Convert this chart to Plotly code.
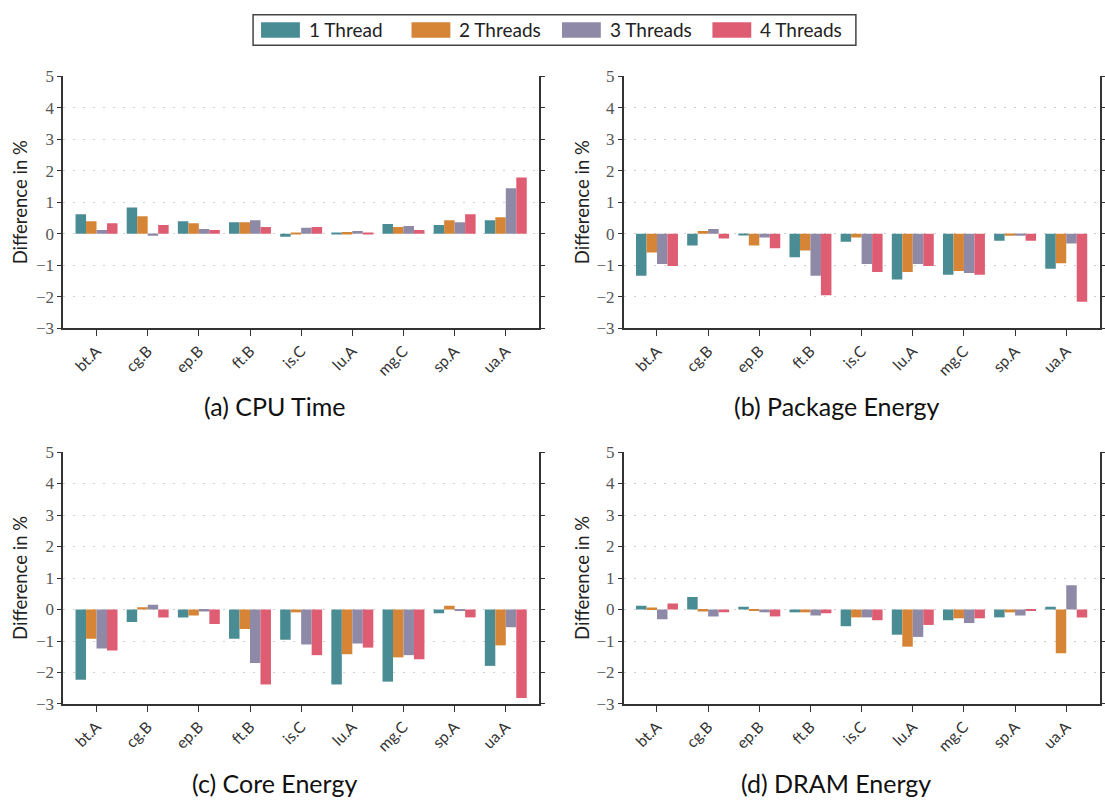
import plotly.graph_objects as go

# Benchmarks on the x axis
benchmarks = ["bt.A", "cg.B", "ep.B", "ft.B", "is.C", "lu.A", "mg.C", "sp.A", "ua.A"]

series_names = ["1 Thread", "2 Threads", "3 Threads", "4 Threads"]
series_colors = ["#4a8c94", "#d68537", "#8e89a6", "#df5d73"]

# (a) CPU Time, difference in %
cpu_1 = [0.62, 0.84, 0.40, 0.37, -0.09, 0.02, 0.31, 0.28, 0.43]
cpu_2 = [0.40, 0.56, 0.34, 0.37, 0.02, 0.06, 0.22, 0.43, 0.53]
cpu_3 = [0.12, -0.06, 0.15, 0.43, 0.19, 0.09, 0.25, 0.37, 1.45]
cpu_4 = [0.34, 0.28, 0.12, 0.22, 0.22, 0.02, 0.12, 0.62, 1.79]

# (b) Package Energy
pkg_1 = [-1.33, -0.37, -0.03, -0.74, -0.25, -1.45, -1.30, -0.22, -1.11]
pkg_2 = [-0.59, 0.09, -0.37, -0.53, -0.12, -1.21, -1.18, -0.06, -0.93]
pkg_3 = [-0.96, 0.15, -0.12, -1.33, -0.96, -0.96, -1.24, -0.06, -0.31]
pkg_4 = [-1.02, -0.15, -0.46, -1.95, -1.21, -1.02, -1.30, -0.22, -2.16]

# (c) Core Energy
core_1 = [-2.23, -0.40, -0.25, -0.93, -0.96, -2.38, -2.29, -0.12, -1.79]
core_2 = [-0.93, 0.07, -0.19, -0.62, -0.09, -1.42, -1.52, 0.12, -1.14]
core_3 = [-1.24, 0.15, -0.06, -1.70, -1.11, -1.08, -1.45, -0.02, -0.56]
core_4 = [-1.30, -0.25, -0.46, -2.38, -1.45, -1.21, -1.58, -0.25, -2.81]

# (d) DRAM Energy
dram_1 = [0.12, 0.40, 0.09, -0.09, -0.53, -0.80, -0.34, -0.25, 0.09]
dram_2 = [0.06, -0.06, -0.03, -0.09, -0.25, -1.18, -0.28, -0.09, -1.39]
dram_3 = [-0.31, -0.22, -0.09, -0.19, -0.25, -0.87, -0.43, -0.19, 0.77]
dram_4 = [0.19, -0.09, -0.22, -0.12, -0.34, -0.49, -0.28, -0.03, -0.25]

panel_titles = ["(a) CPU Time", "(b) Package Energy", "(c) Core Energy", "(d) DRAM Energy"]
panel_data = [
    [cpu_1, cpu_2, cpu_3, cpu_4],
    [pkg_1, pkg_2, pkg_3, pkg_4],
    [core_1, core_2, core_3, core_4],
    [dram_1, dram_2, dram_3, dram_4],
]

y_ticks = [-3, -2, -1, 0, 1, 2, 3, 4, 5]

W, H = 1105, 809
SANS = "Lato"
SERIF = "Liberation Serif"
LINE = "#333333"

# plot-area pixel boxes (left, right, top, bottom)
boxes = [
    (63.5, 541.0, 69.0, 327.0),
    (626.0, 1103.5, 69.0, 327.0),
    (63.5, 541.0, 453.7, 711.7),
    (626.0, 1103.5, 453.7, 711.7),
]
caption_pos = [(275, 407), (840, 407), (275, 793), (839, 793)]
ytitle_x = [20, 584, 20, 584]

fig = go.Figure()
layout = {}
annotations = []
shapes = []

for p, (values, box) in enumerate(zip(panel_data, boxes)):
    xa = "x" if p == 0 else f"x{p + 1}"
    ya = "y" if p == 0 else f"y{p + 1}"
    for name, color, vals in zip(series_names, series_colors, values):
        fig.add_trace(go.Bar(
            x=benchmarks, y=vals, name=name, marker_color=color,
            marker_line_width=0, xaxis=xa, yaxis=ya, showlegend=False,
        ))
    l, r, t, b = box
    xdom = [l / W, r / W]
    ydom = [1 - b / H, 1 - t / H]
    xkey = "xaxis" if p == 0 else f"xaxis{p + 1}"
    ykey = "yaxis" if p == 0 else f"yaxis{p + 1}"
    layout[xkey] = dict(
        domain=xdom, anchor=ya, range=[-0.65, len(benchmarks) - 0.35],
        showline=True, linecolor=LINE, linewidth=1.6, mirror=False,
        ticks="outside", ticklen=6, tickwidth=1.3, tickcolor=LINE,
        tickangle=-45, tickfont=dict(family=SANS, size=15.5, color="#333"),
        showgrid=False, zeroline=False, fixedrange=True,
    )
    layout[ykey] = dict(
        domain=ydom, anchor=xa, range=[-3, 5], tickvals=y_ticks,
        showline=True, linecolor=LINE, linewidth=1.6, mirror="ticks",
        ticks="outside", ticklen=4, tickwidth=1.3, tickcolor=LINE,
        tickfont=dict(family=SERIF, size=17, color="#555"),
        showgrid=True, gridcolor="#cfcfcf", griddash="2px,8px", gridwidth=1.2,
        zeroline=False, fixedrange=True,
    )
    # inner tick marks on both spines
    okey = f"yaxis{p + 5}"
    layout[okey] = dict(
        overlaying=ya, anchor=xa, range=[-3, 5], tickvals=y_ticks,
        side="left", showline=False, showgrid=False, zeroline=False,
        ticks="inside", ticklen=4, tickwidth=1.3, tickcolor=LINE,
        mirror="ticks", showticklabels=False, fixedrange=True,
    )
    annotations.append(dict(
        text="Difference in %", xref="paper", yref="paper",
        x=ytitle_x[p] / W, y=1 - (t + b) / 2 / H, textangle=-90,
        showarrow=False, xanchor="center", yanchor="middle",
        font=dict(family=SANS, size=18.5, color="#222"),
    ))
    cx, cy = caption_pos[p]
    annotations.append(dict(
        text=panel_titles[p], xref="paper", yref="paper",
        x=cx / W, y=1 - cy / H, showarrow=False,
        xanchor="center", yanchor="middle",
        font=dict(family=SANS, size=25, color="#111"),
    ))

# legend box across the top
shapes.append(dict(type="rect", xref="paper", yref="paper",
                   x0=254 / W, x1=859 / W, y0=1 - 37 / H, y1=1 - 6 / H,
                   line=dict(color="#444", width=1.5), fillcolor="white"))
swatch_x = [262, 413, 564, 715]
for sx, name, color in zip(swatch_x, series_names, series_colors):
    shapes.append(dict(type="rect", xref="paper", yref="paper",
                       x0=sx / W, x1=(sx + 39) / W,
                       y0=1 - 29.5 / H, y1=1 - 13.5 / H,
                       line=dict(width=0), fillcolor=color))
    annotations.append(dict(
        text=name, xref="paper", yref="paper",
        x=(sx + 46) / W, y=1 - 21.5 / H, showarrow=False,
        xanchor="left", yanchor="middle",
        font=dict(family=SANS, size=19, color="#222"),
    ))

fig.update_layout(
    width=W, height=H,
    margin=dict(l=0, r=0, t=0, b=0),
    paper_bgcolor="white", plot_bgcolor="white",
    barmode="group", bargap=0.18, bargroupgap=0.0,
    annotations=annotations, shapes=shapes,
    **layout,
)

fig.write_html("out.html")
